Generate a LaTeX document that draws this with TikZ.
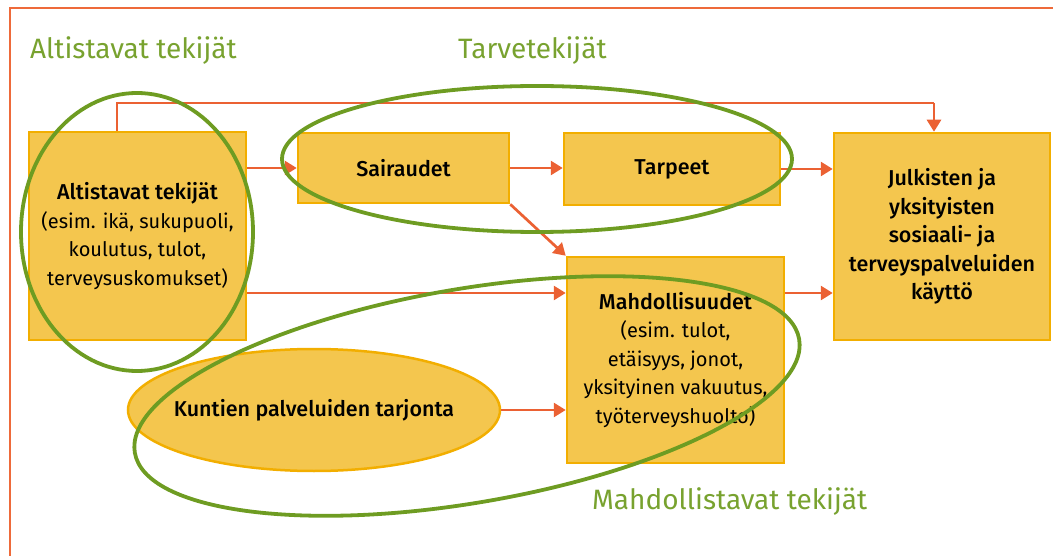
\documentclass[tikz,border=0pt]{standalone}
\usepackage{fontspec}
\setmainfont{Fira Sans}[BoldFont={Fira Sans Medium}]
\usetikzlibrary{arrows.meta,shapes.geometric}
\definecolor{boxfill}{HTML}{F4C64E}
\definecolor{boxline}{HTML}{F2AE00}
\definecolor{arr}{HTML}{EB6133}
\definecolor{frame}{HTML}{EE6A3A}
\definecolor{grn}{HTML}{6E9C22}
\definecolor{grntext}{HTML}{78A22F}
\newcommand{\hd}[1]{{\fontsize{21.5}{28}\selectfont\bfseries #1}}
\tikzset{
  box/.style={draw=boxline, line width=2.5pt, fill=boxfill, inner sep=0pt, align=center, text=black,
    font=\fontsize{20}{28.5}\selectfont},
  flow/.style={draw=arr, line width=2.7pt, -{Triangle[length=12pt,width=14pt]}},
  plain/.style={draw=arr, line width=2.7pt},
  group/.style={draw=grn, line width=3.8pt},
  title/.style={text=grntext, inner sep=0pt, anchor=base west, font=\fontsize{28}{32}\selectfont},
}
\begin{document}
\begin{tikzpicture}[x=1pt,y=-1pt]
\useasboundingbox (0,0) rectangle (1053,556);
\draw[frame, line width=2.2pt] (10,560) -- (10,8) -- (1060,8);
% titles
\node[title] (t1) at (30,59) {Altistavat tekijät};
\node[title] (t2) at (458,59) {Tarvetekijät};
\node[title] (t3) at (592,509) {Mahdollistavat tekijät};
% boxes
\node[box, minimum width=217pt, minimum height=208pt] (alt) at (137.5,236)
  {\hd{Altistavat tekijät}\\(esim. ikä, sukupuoli,\\koulutus, tulot,\\terveysuskomukset)};
\node[box, minimum width=211pt, minimum height=70pt] (sai) at (403.5,168) {\hd{Sairaudet}};
\node[box, minimum width=216pt, minimum height=72pt] (tar) at (672,169) {\hd{Tarpeet}};
\node[box, minimum width=216pt, minimum height=207pt] (jul) at (942,236.5)
  {\hd{Julkisten ja}\\\hd{yksityisten}\\\hd{sosiaali- ja}\\\hd{terveyspalveluiden}\\\hd{käyttö}};
\node[box, minimum width=217pt, minimum height=206pt] (mah) at (675.5,360)
  {\hd{Mahdollisuudet}\\(esim. tulot,\\etäisyys, jonot,\\yksityinen vakuutus,\\työterveyshuolto)};
\node[box, ellipse, inner xsep=-50pt, inner ysep=0pt, minimum width=372pt, minimum height=122pt] (kun) at (314,410)
  {\hd{Kuntien palveluiden tarjonta}};
% connectors
\coordinate (tl) at (117,103);
\coordinate (tr) at (934,103);
\coordinate (r2) at (0,293);
\draw[plain] (alt.north -| tl) -- (tl) -- (tr);
\draw[flow] (tr) -- (jul.north -| tr);
\draw[flow] (alt.east |- sai.west) -- (sai.west);
\draw[flow] (sai.east) -- (sai.east -| tar.west);
\draw[flow] (tar.east) -- (tar.east -| jul.west);
\draw[flow] (sai.south east) -- (mah.north west);
\draw[flow] (alt.east |- r2) -- (mah.west |- r2);
\draw[flow] (mah.east |- r2) -- (jul.west |- r2);
\draw[flow] (kun.east) -- (mah.west |- kun.east);
% group ellipses
\draw[group] (137,232) ellipse [x radius=116pt, y radius=139pt];
\draw[group] (537,159) ellipse [x radius=255pt, y radius=73pt];
\draw[group, shift={(467,396)}, rotate=9.7] (0,0) ellipse [x radius=337pt, y radius=107pt];
\end{tikzpicture}
\end{document}
